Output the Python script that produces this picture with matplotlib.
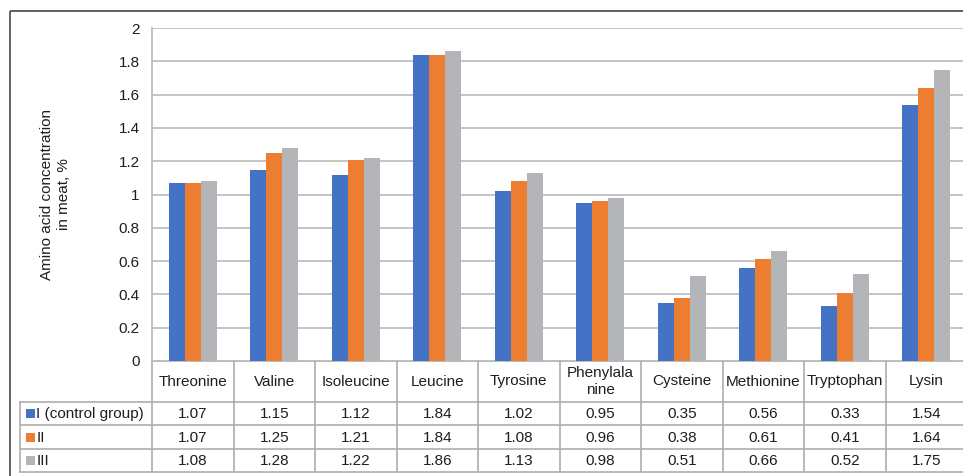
import matplotlib
matplotlib.use("Agg")
import matplotlib.pyplot as plt
from matplotlib.transforms import blended_transform_factory
from matplotlib.patches import Rectangle

categories = ["Threonine", "Valine", "Isoleucine", "Leucine", "Tyrosine",
              "Phenylala\nnine", "Cysteine", "Methionine", "Tryptophan", "Lysin"]
series_names = ["I (control group)", "II", "III"]
group_I = [1.07, 1.15, 1.12, 1.84, 1.02, 0.95, 0.35, 0.56, 0.33, 1.54]
group_II = [1.07, 1.25, 1.21, 1.84, 1.08, 0.96, 0.38, 0.61, 0.41, 1.64]
group_III = [1.08, 1.28, 1.22, 1.86, 1.13, 0.98, 0.51, 0.66, 0.52, 1.75]
series = [group_I, group_II, group_III]
colors = ["#4472C4", "#ED7D31", "#B4B5B9"]
yticks = [0, 0.2, 0.4, 0.6, 0.8, 1, 1.2, 1.4, 1.6, 1.8, 2]
ylabel = "Amino acid concentration\nin meat, %"

plt.rcParams['font.family'] = ['Liberation Sans', 'DejaVu Sans']
FS = 11
TC = "#1E1E1E"

W, H = 963, 476
fig = plt.figure(figsize=(W / 100, H / 100), dpi=100)

# overlay in pixel coordinates for frame and table
ov = fig.add_axes([0, 0, 1, 1], zorder=0)
ov.set_xlim(0, W)
ov.set_ylim(H, 0)
ov.axis("off")

left_px, right_px, top_px, bot_px = 152, 967, 28, 361
ax = fig.add_axes([left_px / W, (H - bot_px) / H, (right_px - left_px) / W,
                   (bot_px - top_px) / H], zorder=1)
ax.patch.set_alpha(0)

n = len(categories)
x = list(range(n))
bw = 0.195
for i, (vals, col) in enumerate(zip(series, colors)):
    ax.bar([xi + (i - 1) * bw for xi in x], vals, width=bw, color=col,
           zorder=3, linewidth=0)

ax.set_xlim(-0.5, n - 0.5)
ax.set_ylim(0, 2)
ax.set_yticks(yticks)
ax.set_yticklabels([f"{t:g}" for t in yticks], fontsize=FS, color=TC)
ax.tick_params(axis="y", length=0, pad=9)
ax.set_xticks([])
ax.grid(axis="y", color="#BFBFBF", linewidth=1.3, zorder=0)
for s in ["top", "right", "bottom"]:
    ax.spines[s].set_visible(False)
ax.spines["left"].set_color("#BFBFBF")
ax.spines["left"].set_linewidth(1.3)
ax.set_ylabel(ylabel, fontsize=FS, color=TC, labelpad=34, linespacing=1.25)

# outer frame
ov.add_patch(Rectangle((9.5, 10.5), W + 10, H + 10, fill=False,
                       edgecolor="#555555", linewidth=1.3))

# table
tr = blended_transform_factory(ax.transData, ov.transData)
line_c = "#AEAEAE"
lw = 1.2
row_tops = [361, 402, 425, 449, 472]
label_left = 20
ov.plot([left_px, W + 10], [row_tops[0]] * 2, color=line_c, lw=lw, clip_on=False)
for yv in row_tops[1:]:
    ov.plot([label_left, W + 10], [yv, yv], color=line_c, lw=lw, clip_on=False)
for k in range(n + 1):
    ax_x = k - 0.5
    ov.plot([ax_x, ax_x], [row_tops[0], row_tops[-1]], color=line_c, lw=lw,
            transform=tr, clip_on=False)
ov.plot([label_left, label_left], [row_tops[1], row_tops[-1]], color=line_c, lw=lw)

# header
hy = (row_tops[0] + row_tops[1]) / 2
for k, c in enumerate(categories):
    ov.text(k, hy, c, transform=tr, ha="center", va="center", fontsize=FS,
            color=TC, linespacing=1.2)

# rows
for r, (name, vals, col) in enumerate(zip(series_names, series, colors)):
    cy = (row_tops[r + 1] + row_tops[r + 2]) / 2
    ov.add_patch(Rectangle((26, cy - 4.5), 8.5, 9, color=col, linewidth=0))
    ov.text(36.5, cy + 0.5, name, ha="left", va="center", fontsize=FS, color=TC)
    for k, v in enumerate(vals):
        ov.text(k, cy + 0.5, f"{v:.2f}", transform=tr, ha="center", va="center",
                fontsize=FS, color=TC)

fig.savefig("out.png", dpi=100)
